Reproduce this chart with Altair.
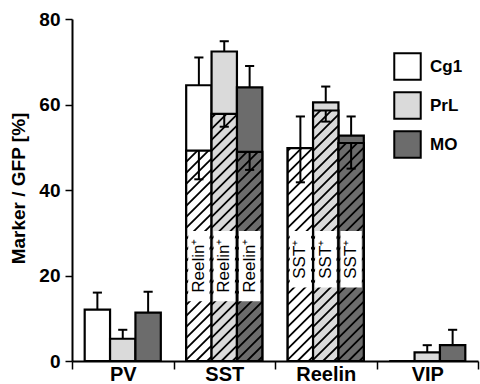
import altair as alt
import pandas as pd

# ---------------- data ----------------
groups = ["PV", "SST", "Reelin", "VIP"]
regions = ["Cg1", "PrL", "MO"]
region_colors = ["#ffffff", "#dadada", "#6c6c6c"]

# mean marker / GFP [%] per group (PV, SST, Reelin, VIP)
mean_cg1 = [12.0, 64.5, 49.8, 0.0]
mean_prl = [5.2, 72.4, 60.5, 2.0]
mean_mo = [11.3, 64.0, 52.7, 3.7]
sem_cg1 = [4.0, 6.5, 7.4, 0.0]
sem_prl = [2.1, 2.4, 3.7, 1.7]
sem_mo = [4.9, 5.0, 4.5, 3.6]

# co-labelled (hatched) fraction in SST and Reelin groups
co_groups = ["SST", "Reelin"]
co_labels = ["Reelin\u207a", "SST\u207a"]
co_cg1 = [49.2, 49.8]
co_prl = [57.8, 58.6]
co_mo = [48.9, 51.0]
co_sem_cg1 = [6.7, 8.0]
co_sem_prl = [3.0, 2.6]
co_sem_mo = [4.2, 6.0]

# ---------------- layout / style ----------------
W, H = 406, 342
YMAX = 80
BAR = 0.25          # bar width in group units
GPAD = 0.125        # outer padding of a group
CAP = 0.045         # half width of error caps
FONT = "Liberation Sans"
px_x = W / 4.0
px_y = H / YMAX
RISE = BAR * px_x / px_y     # 45 degree hatch across a bar, in y units
STEP = 11.0 / px_y           # hatch spacing
INSET = 0.02
label_box = {"Reelin\u207a": (14.0, 30.4, 22.3), "SST\u207a": (17.2, 30.4, 23.8)}

means = {"Cg1": mean_cg1, "PrL": mean_prl, "MO": mean_mo}
sems = {"Cg1": sem_cg1, "PrL": sem_prl, "MO": sem_mo}
cos = {"Cg1": co_cg1, "PrL": co_prl, "MO": co_mo}
co_sems = {"Cg1": co_sem_cg1, "PrL": co_sem_prl, "MO": co_sem_mo}

rows = []
for gi, g in enumerate(groups):
    for ri, r in enumerate(regions):
        x0 = gi + GPAD + ri * BAR
        m = means[r][gi]
        s = sems[r][gi]
        rows.append(dict(group=g, region=r, x0=x0, x1=x0 + BAR, xc=x0 + BAR / 2,
                         xl=x0 + BAR / 2 - CAP, xr=x0 + BAR / 2 + CAP,
                         mean=m, sem=s, top=m + s, base=0.0))
bars = pd.DataFrame(rows)

co_rows, hatch = [], []
for ci, g in enumerate(co_groups):
    gi = groups.index(g)
    lab = co_labels[ci]
    lo, hi, mid = label_box[lab]
    for ri, r in enumerate(regions):
        x0 = gi + GPAD + ri * BAR
        v = cos[r][ci]
        s = co_sems[r][ci]
        co_rows.append(dict(group=g, region=r, x0=x0, x1=x0 + BAR, xc=x0 + BAR / 2,
                            xl=x0 + BAR / 2 - CAP, xr=x0 + BAR / 2 + CAP,
                            val=v, low=v - s, base=0.0, label=lab,
                            bx0=x0 + INSET, bx1=x0 + BAR - INSET, blo=lo, bhi=hi, bmid=mid))
        c = -RISE + STEP * 0.4
        while c < v:
            us = max(0.0, -c / RISE)
            ue = min(1.0, (v - c) / RISE)
            if ue > us:
                hatch.append(dict(xa=x0 + us * BAR, xb=x0 + ue * BAR,
                                  ya=c + us * RISE, yb=c + ue * RISE))
            c += STEP
co = pd.DataFrame(co_rows)
hatch_df = pd.DataFrame(hatch)

# ---------------- encodings ----------------
xq = alt.Scale(domain=[0, 4], nice=False, zero=False)
yq = alt.Scale(domain=[0, YMAX], nice=False, zero=False)
y_axis = alt.Axis(title="Marker / GFP [%]", values=[0, 20, 40, 60, 80], grid=False,
                  tickSize=7, tickWidth=1.5, tickColor="black",
                  domainColor="black", domainWidth=2,
                  labelFont=FONT, labelFontSize=19, labelFontWeight="bold",
                  labelColor="black", labelPadding=5,
                  titleFont=FONT, titleFontSize=19, titleFontWeight="bold",
                  titleColor="black", titleX=-54, titleY=H / 2 - 2, titleAlign="center",
                  titleBaseline="middle", titleAngle=270)


def X(f):
    return alt.X(f, type="quantitative", scale=xq, axis=None)


def Y(f):
    return alt.Y(f, type="quantitative", scale=yq, axis=y_axis)


fill = alt.Fill("region:N", sort=regions,
                scale=alt.Scale(domain=regions, range=region_colors),
                legend=alt.Legend(title=None, orient="none", legendX=321, legendY=33,
                                  symbolType="square", symbolSize=700,
                                  symbolStrokeColor="black", symbolStrokeWidth=2,
                                  symbolOpacity=1, labelFont=FONT, labelFontSize=17,
                                  labelFontWeight="bold", labelColor="black",
                                  labelOffset=8, rowPadding=4, padding=0))

axis_layer = alt.Chart(pd.DataFrame({"group": groups, "zero": [0] * 4})).mark_bar(opacity=0).encode(
    x=alt.X("group:N", sort=groups,
            scale=alt.Scale(type="band", paddingInner=0, paddingOuter=0),
            axis=alt.Axis(title=None, tickBand="extent", tickSize=8, tickWidth=1.5,
                          tickColor="black", domainColor="black", domainWidth=2,
                          labelFont=FONT, labelFontSize=20, labelFontWeight="bold",
                          labelColor="black", labelPadding=-5, labelAngle=0)),
    y=Y("zero"))

bar_layer = alt.Chart(bars).mark_rect(stroke="black", strokeWidth=2.2).encode(
    x=X("x0"), x2="x1", y=Y("mean"), y2="base", fill=fill)

err = bars[bars["sem"] > 0]
err_line = alt.Chart(err).mark_rule(color="black", strokeWidth=2).encode(
    x=X("xc"), y=Y("mean"), y2="top")
err_cap = alt.Chart(err).mark_rule(color="black", strokeWidth=2).encode(
    x=X("xl"), x2="xr", y=Y("top"))

co_bar = alt.Chart(co).mark_rect(stroke="black", strokeWidth=2.2).encode(
    x=X("x0"), x2="x1", y=Y("val"), y2="base", fill=fill)

hatch_layer = alt.Chart(hatch_df).mark_rule(color="black", strokeWidth=1.8).encode(
    x=X("xa"), x2="xb", y=Y("ya"), y2="yb")

co_err_line = alt.Chart(co).mark_rule(color="black", strokeWidth=2).encode(
    x=X("xc"), y=Y("val"), y2="low")
co_err_cap = alt.Chart(co).mark_rule(color="black", strokeWidth=2).encode(
    x=X("xl"), x2="xr", y=Y("low"))

box_layer = alt.Chart(co).mark_rect(fill="white", stroke=None).encode(
    x=X("bx0"), x2="bx1", y=Y("blo"), y2="bhi")

text_layer = alt.Chart(co).mark_text(angle=270, align="center", baseline="middle",
                                     font=FONT, fontSize=17, color="black").encode(
    x=X("xc"), y=Y("bmid"), text="label:N")

chart = alt.layer(
    axis_layer, bar_layer, err_line, err_cap, co_bar, hatch_layer,
    co_err_line, co_err_cap, box_layer, text_layer
).resolve_scale(x="independent").properties(
    width=W, height=H,
    padding={"left": 72, "top": 19, "right": 2, "bottom": 23},
    autosize=alt.AutoSizeParams(type="none"),
    background="white",
).configure_view(stroke=None)

chart.save("out.html", embed_options={"renderer": "svg", "actions": False})
